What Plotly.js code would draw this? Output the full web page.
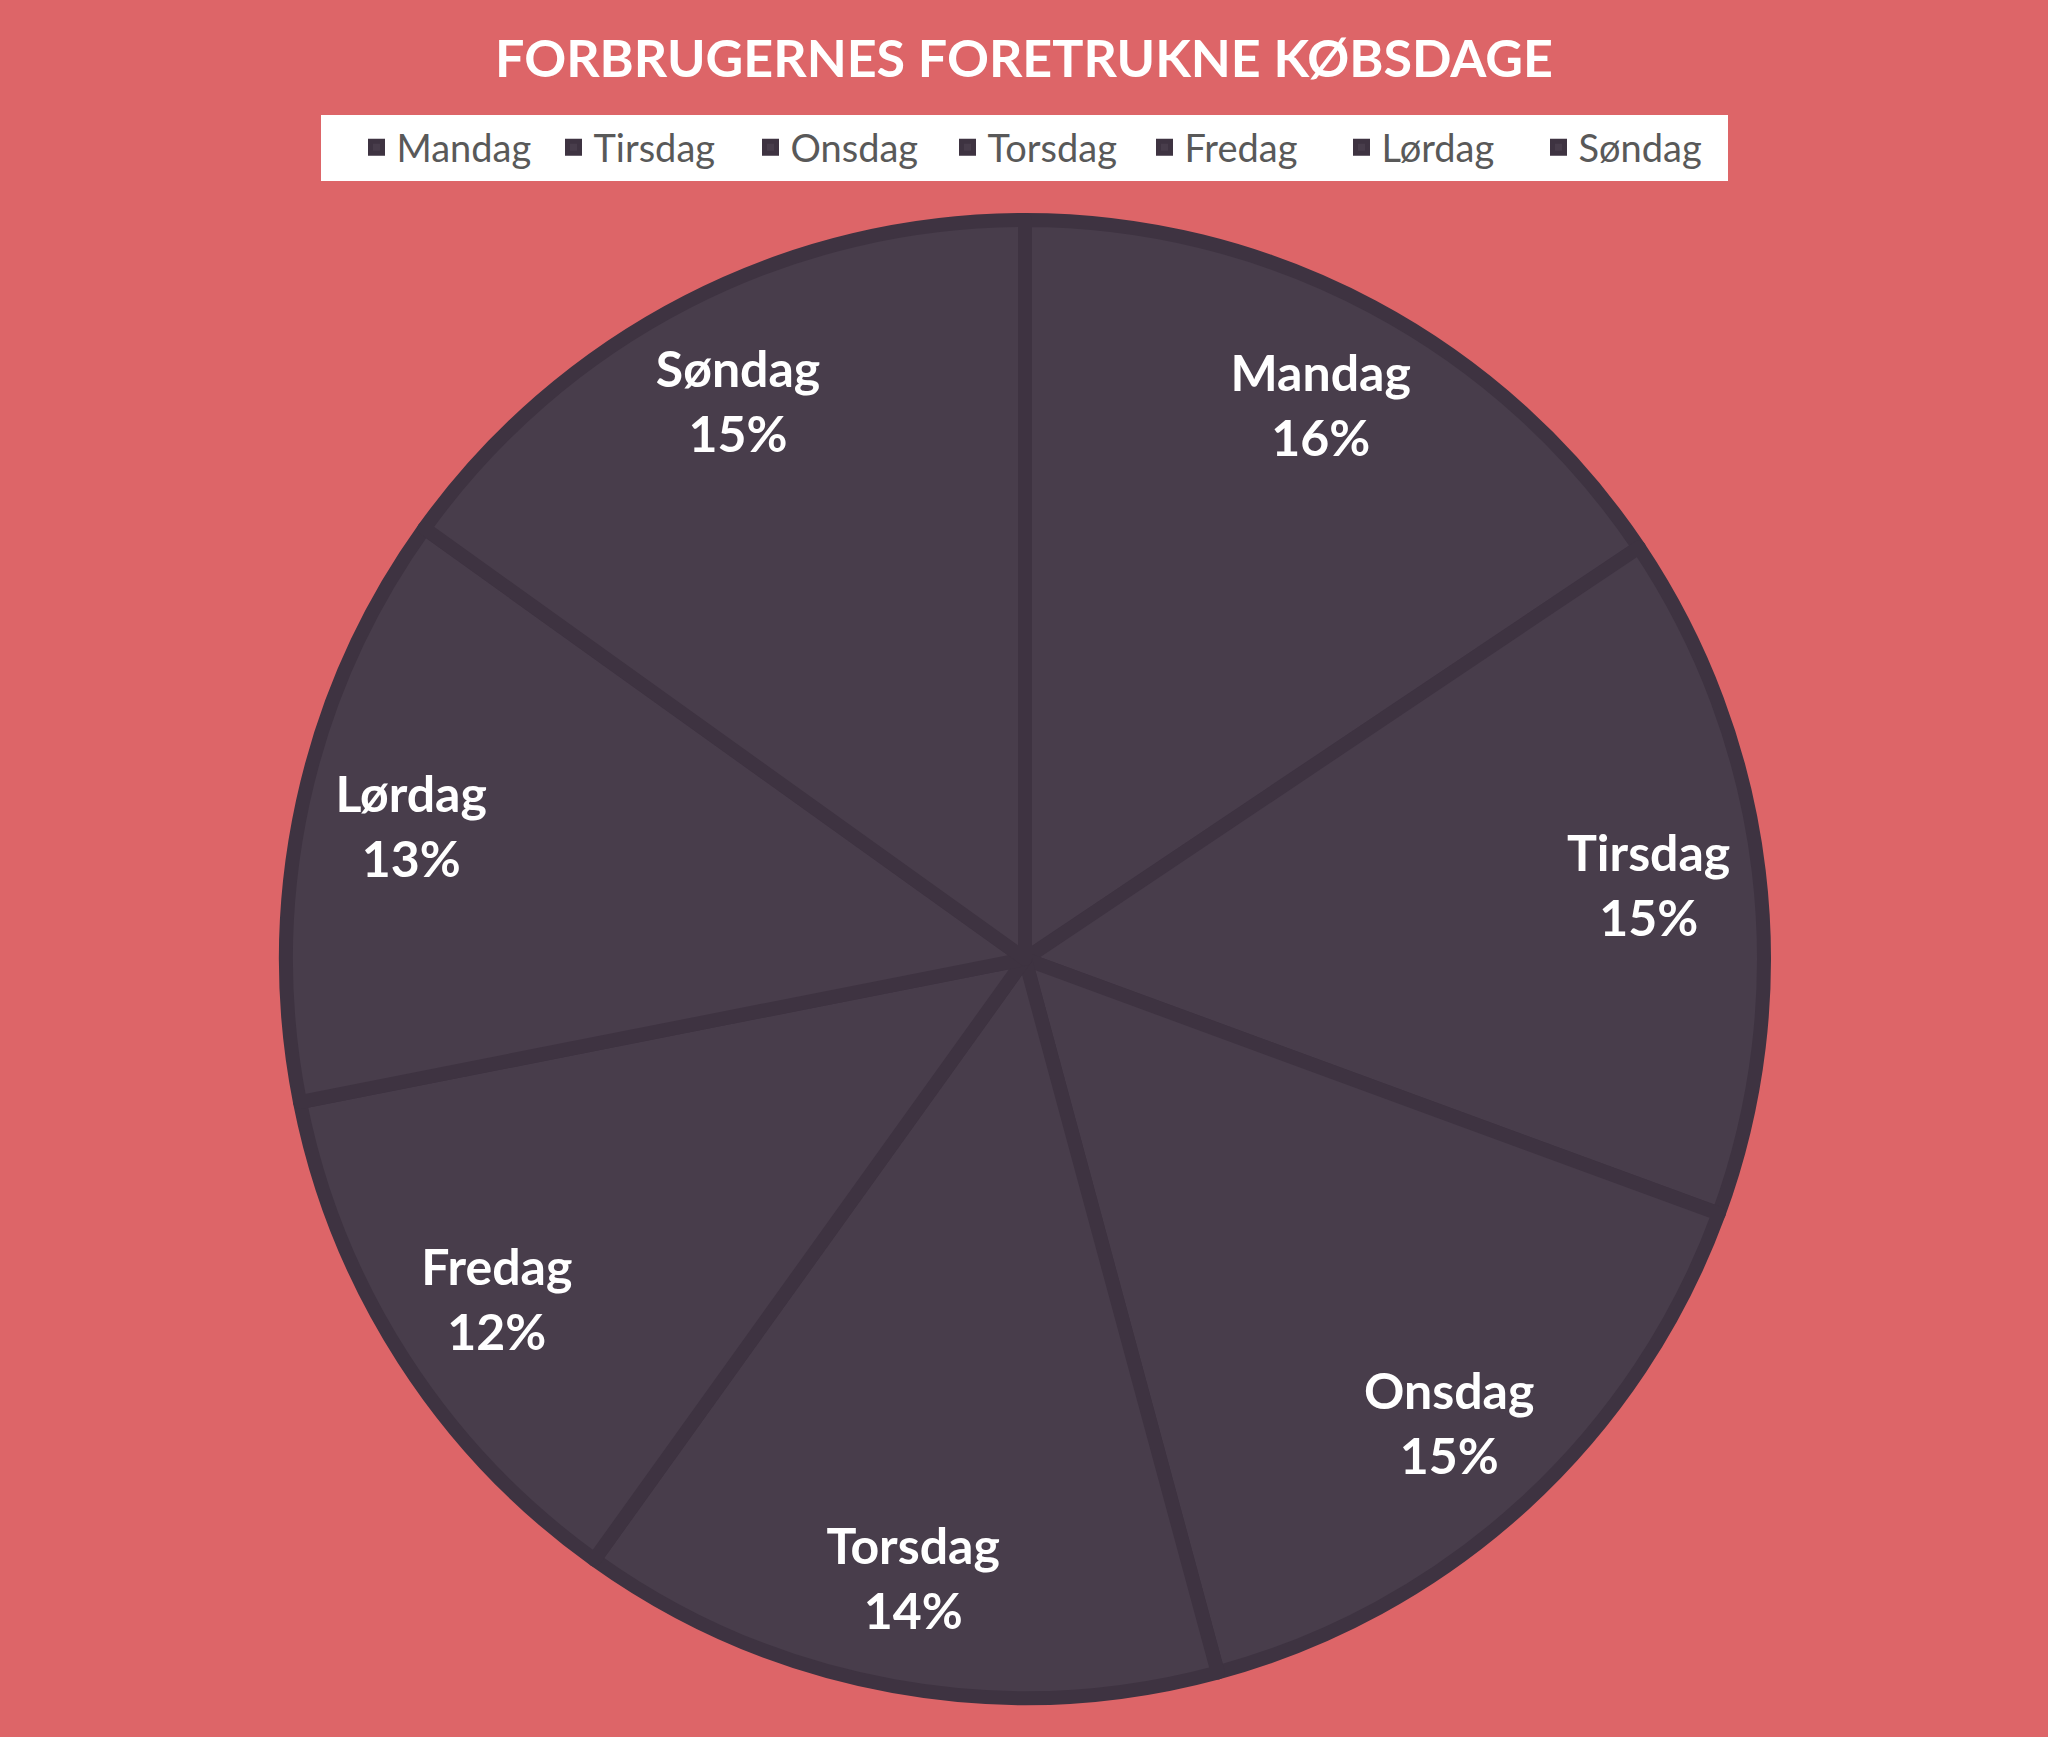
<!DOCTYPE html>
<html>
<head>
<meta charset="utf-8">
<script src="https://cdn.plot.ly/plotly-3.0.1.min.js"></script>
<style>html,body{margin:0;padding:0;background:#DD6568;}#chart{width:2048px;height:1737px;}</style>
</head>
<body>
<div id="chart"></div>
<script>
const categories = ["Mandag", "Tirsdag", "Onsdag", "Torsdag", "Fredag", "Lørdag", "Søndag"];
const values = [15.6, 15.0, 15.2, 14.1, 12.0, 13.0, 15.1];
const chartTitle = "FORBRUGERNES FORETRUKNE KØBSDAGE";

const sliceColor = "#483D4B";
const fontFam = "Lato, 'Open Sans', sans-serif";
const pieDomain = { x: [286/2048, 1764/2048], y: [1 - 1698/1737, 1 - 220/1737] };

const slices = {
  type: "pie",
  labels: categories,
  values: values,
  sort: false,
  direction: "clockwise",
  rotation: 0,
  marker: { colors: categories.map(() => sliceColor), line: { color: "#3E3341", width: 14 } },
  textinfo: "none",
  hoverinfo: "none",
  domain: pieDomain
};

const labelRing = {
  type: "pie",
  labels: categories,
  values: values,
  sort: false,
  direction: "clockwise",
  rotation: 0,
  hole: 0.7,
  showlegend: false,
  marker: { colors: categories.map(() => "rgba(0,0,0,0)"), line: { width: 0 } },
  texttemplate: "<b>%{label}</b><br><b>%{percent:.0%}</b>",
  textposition: "inside",
  insidetextorientation: "horizontal",
  textfont: { family: fontFam, size: 50, color: "#FFFFFF" },
  hoverinfo: "none",
  domain: pieDomain
};

const layout = {
  width: 2048, height: 1737,
  paper_bgcolor: "#DD6568",
  plot_bgcolor: "#DD6568",
  margin: { l: 0, r: 0, t: 0, b: 0 },
  title: {
    text: "<b>" + chartTitle + "</b>",
    font: { family: fontFam, size: 52, color: "#FFFFFF" },
    x: 0.5, xanchor: "center",
    y: 1 - 59/1737, yanchor: "middle", yref: "paper"
  },
  shapes: [{
    type: "rect", xref: "paper", yref: "paper", layer: "below",
    x0: 321/2048, x1: 1728/2048, y0: 1 - 181/1737, y1: 1 - 115/1737,
    fillcolor: "#FFFFFF", line: { width: 0 }
  }],
  showlegend: true,
  legend: {
    orientation: "h",
    x: 0.5 + 22/2048, xanchor: "center",
    y: 1 - 116/1737, yanchor: "top",
    bgcolor: "rgba(255,255,255,0)",
    borderwidth: 0,
    font: { family: fontFam, size: 38, color: "#595959" },
    itemwidth: 30,
    entrywidth: 152,
    entrywidthmode: "pixels",
    traceorder: "normal"
  }
};

Plotly.newPlot("chart", [slices, labelRing], layout, { displayModeBar: false, staticPlot: true });
</script>
</body>
</html>
